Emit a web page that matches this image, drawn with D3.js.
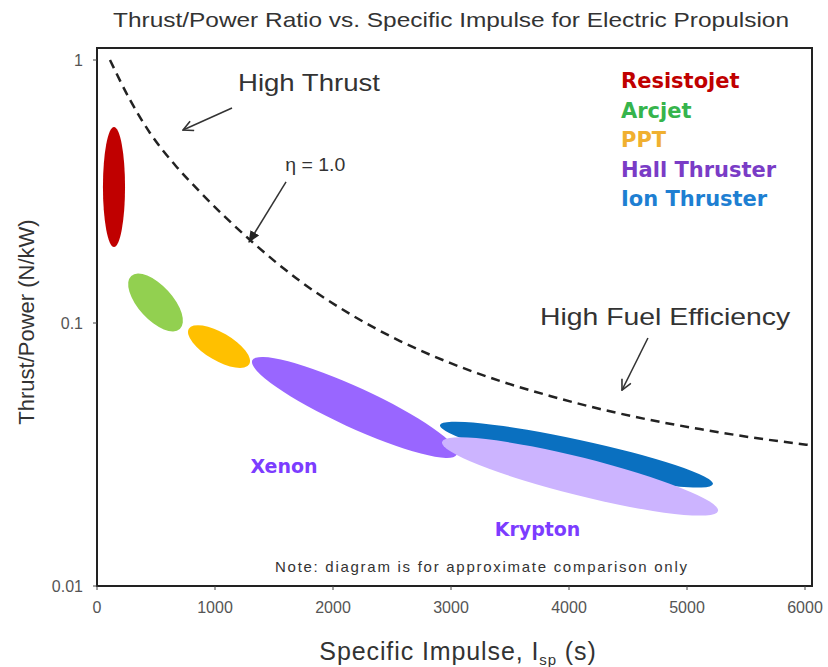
<!DOCTYPE html>
<html><head><meta charset="utf-8">
<script src="https://cdn.jsdelivr.net/npm/d3@7"></script>
<style>body{margin:0;background:#fff}</style>
</head><body>
<svg id="c" width="828" height="667"></svg>
<script>
// ---- data ----
const thrusters = ["Resistojet", "Arcjet", "PPT", "Hall Thruster (Xenon)", "Ion Thruster", "Hall Thruster (Krypton)"];
// major-axis end points (Isp s, Thrust/Power N/kW) and half-width in log decades
const ispStart = [144, 290, 778, 1316, 2907, 2924];
const ispEnd   = [144, 702, 1290, 3049, 5220, 5263];
const tpStart  = [0.556, 0.151, 0.095, 0.0721, 0.0409, 0.0353];
const tpEnd    = [0.1945, 0.0949, 0.0697, 0.0316, 0.0244, 0.01928];
const spreadDec = [0.042, 0.065, 0.053, 0.076, 0.057, 0.072];
// eta = 1.0 curve
const etaIsp = [110, 280, 449, 661, 873, 1297, 1720, 2144, 2568, 2992, 3415, 3839, 4263, 4686, 5110, 5534, 6025];
const etaTP  = [1.0, 0.705, 0.528, 0.399, 0.315, 0.2068, 0.1444, 0.1082, 0.0854, 0.0705, 0.0602, 0.0528, 0.0471, 0.0428, 0.0395, 0.0368, 0.0344];
const legendLabels = ["Resistojet", "Arcjet", "PPT", "Hall Thruster", "Ion Thruster"];
const xTicks = [0, 1000, 2000, 3000, 4000, 5000, 6000];
const yTicks = [1, 0.1, 0.01];
const yTickLabels = ["1", "0.1", "0.01"];

// ---- styles ----
const fillColors = ["#c00000", "#92d050", "#ffc000", "#9966ff", "#0a70c0", "#ccb4ff"];
const legendColors = ["#c00000", "#36b44c", "#f0b030", "#7a3cc6", "#1e7fd2"];

const svg = d3.select("#c");
const L = 97, R = 805, frameR = 812, T = 48, B = 586;
const x = d3.scaleLinear().domain([0, 6000]).range([L, R]);
const y = d3.scaleLog().domain([0.01, 1]).range([B, 60]);
const decPx = y(0.1) - y(1);

// title
svg.append("text").attr("x", 451).attr("y", 27).attr("text-anchor", "middle")
  .attr("font-family", "Liberation Sans, Arial, sans-serif").attr("font-size", 21)
  .attr("fill", "#333").attr("textLength", 676).attr("lengthAdjust", "spacingAndGlyphs")
  .text("Thrust/Power Ratio vs. Specific Impulse for Electric Propulsion");

// ellipses
const g = svg.append("g");
thrusters.forEach((name, i) => {
  const x1 = x(ispStart[i]), y1 = y(tpStart[i]), x2 = x(ispEnd[i]), y2 = y(tpEnd[i]);
  const cx = (x1 + x2) / 2, cy = (y1 + y2) / 2;
  const a = Math.hypot(x2 - x1, y2 - y1) / 2;
  const ang = Math.atan2(y2 - y1, x2 - x1) * 180 / Math.PI;
  g.append("ellipse").attr("cx", cx).attr("cy", cy).attr("rx", a).attr("ry", spreadDec[i] * decPx)
    .attr("transform", `rotate(${ang},${cx},${cy})`).attr("fill", fillColors[i]);
});

// eta curve
const etaPts = etaIsp.map((d, i) => [x(d), y(etaTP[i])]);
svg.append("path").attr("d", d3.line().curve(d3.curveMonotoneX)(etaPts))
  .attr("fill", "none").attr("stroke", "#222").attr("stroke-width", 2.5).attr("stroke-dasharray", "9,6");

// frame
svg.append("rect").attr("x", L).attr("y", T).attr("width", frameR - L).attr("height", B - T)
  .attr("fill", "none").attr("stroke", "#222").attr("stroke-width", 2);

// axes ticks
xTicks.forEach(t => {
  svg.append("line").attr("x1", x(t)).attr("x2", x(t)).attr("y1", B).attr("y2", B + 4).attr("stroke", "#444").attr("stroke-width", 1);
  svg.append("text").attr("x", x(t)).attr("y", 613).attr("text-anchor", "middle")
    .attr("font-family", "Liberation Sans, Arial, sans-serif").attr("font-size", 16).attr("fill", "#555").text(t);
});
yTicks.forEach((t, i) => {
  svg.append("line").attr("x1", L - 4).attr("x2", L).attr("y1", y(t)).attr("y2", y(t)).attr("stroke", "#444").attr("stroke-width", 1);
  svg.append("text").attr("x", 83).attr("y", y(t) + 6).attr("text-anchor", "end")
    .attr("font-family", "Liberation Sans, Arial, sans-serif").attr("font-size", 16).attr("fill", "#555").text(yTickLabels[i]);
});

// axis titles
const xl = svg.append("text").attr("x", 458).attr("y", 660).attr("text-anchor", "middle")
  .attr("font-family", "Liberation Sans, Arial, sans-serif").attr("font-size", 25).attr("letter-spacing", 0.9).attr("fill", "#333");
xl.append("tspan").text("Specific Impulse, I");
xl.append("tspan").attr("font-size", 15).attr("dy", 5).text("sp");
xl.append("tspan").attr("dy", -5).text(" (s)");
svg.append("text").attr("transform", "translate(34,322) rotate(-90)").attr("text-anchor", "middle")
  .attr("font-family", "Liberation Sans, Arial, sans-serif").attr("font-size", 22).attr("fill", "#333")
  .text("Thrust/Power (N/kW)");

// legend
legendLabels.forEach((lab, i) => {
  svg.append("text").attr("x", 621).attr("y", 88 + i * 29.5)
    .attr("font-family", "DejaVu Sans, Verdana, sans-serif").attr("font-weight", "bold").attr("font-size", 21)
    .attr("fill", legendColors[i]).text(lab);
});

// annotations
const annFont = "Liberation Sans, Arial, sans-serif";
svg.append("text").attr("x", x(1195)).attr("y", y(0.762)).attr("font-family", annFont).attr("font-size", 24)
  .attr("fill", "#333").attr("textLength", 142).attr("lengthAdjust", "spacingAndGlyphs").text("High Thrust");
svg.append("text").attr("x", x(1595)).attr("y", y(0.378)).attr("font-family", annFont).attr("font-size", 18)
  .attr("fill", "#333").attr("textLength", 60).attr("lengthAdjust", "spacingAndGlyphs").text("η = 1.0");
svg.append("text").attr("x", x(3755)).attr("y", y(0.0985)).attr("font-family", annFont).attr("font-size", 24)
  .attr("fill", "#333").attr("textLength", 250).attr("lengthAdjust", "spacingAndGlyphs").text("High Fuel Efficiency");

const defs = svg.append("defs");
defs.append("marker").attr("id", "open").attr("viewBox", "0 0 12 12").attr("refX", 11).attr("refY", 6)
  .attr("markerWidth", 12).attr("markerHeight", 12).attr("markerUnits", "userSpaceOnUse").attr("orient", "auto")
  .append("path").attr("d", "M1,1 L11,6 L1,11").attr("fill", "none").attr("stroke", "#333").attr("stroke-width", 1.6);
defs.append("marker").attr("id", "filled").attr("viewBox", "0 0 12 12").attr("refX", 11).attr("refY", 6)
  .attr("markerWidth", 12).attr("markerHeight", 12).attr("markerUnits", "userSpaceOnUse").attr("orient", "auto")
  .append("path").attr("d", "M0,1 L12,6 L0,11 Z").attr("fill", "#222");

const arrows = [
  {f: [1144, 0.657], t: [729, 0.542], m: "open"},
  {f: [1602, 0.344], t: [1288, 0.203], m: "filled"},
  {f: [4669, 0.0877], t: [4449, 0.0556], m: "open"}
];
arrows.forEach(a => {
  svg.append("line").attr("x1", x(a.f[0])).attr("y1", y(a.f[1])).attr("x2", x(a.t[0])).attr("y2", y(a.t[1]))
    .attr("stroke", "#333").attr("stroke-width", 1.5).attr("marker-end", `url(#${a.m})`);
});

// ellipse labels
const labFont = "DejaVu Sans, Verdana, sans-serif";
svg.append("text").attr("x", x(1300)).attr("y", y(0.0268)).attr("font-family", labFont).attr("font-weight", "bold")
  .attr("font-size", 19).attr("fill", "#7c3cff").text("Xenon");
svg.append("text").attr("x", x(3370)).attr("y", y(0.0155)).attr("font-family", labFont).attr("font-weight", "bold")
  .attr("font-size", 19).attr("fill", "#7c3cff").text("Krypton");

svg.append("text").attr("x", 481).attr("y", 572).attr("text-anchor", "middle")
  .attr("font-family", annFont).attr("font-size", 15).attr("fill", "#333")
  .attr("textLength", 412).attr("lengthAdjust", "spacing")
  .text("Note:  diagram is for approximate comparison only");
</script>
</body></html>
